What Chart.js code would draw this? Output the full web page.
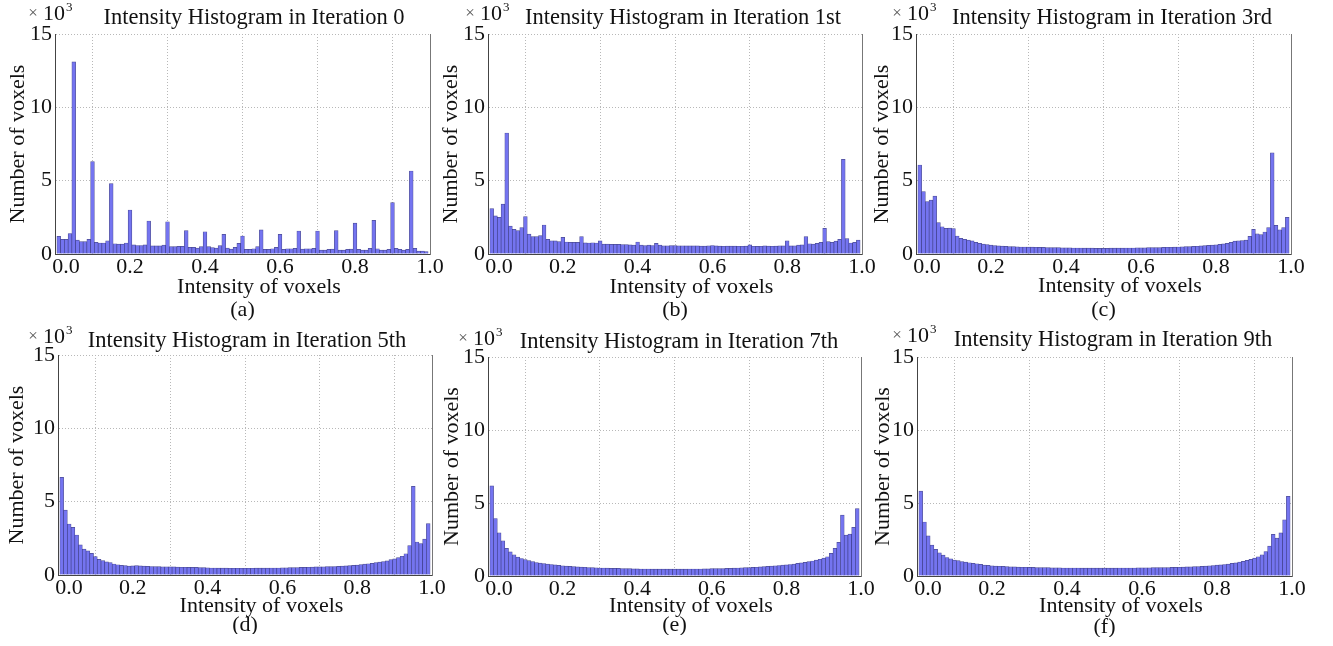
<!DOCTYPE html>
<html>
<head>
<meta charset="utf-8">
<title>Intensity histograms</title>
<script src="https://cdn.jsdelivr.net/npm/chart.js@4.4.0/dist/chart.umd.min.js"></script>
<style>
  html, body { margin: 0; padding: 0; background: #fff; overflow: hidden; }
  #wrap { position: relative; width: 1333px; height: 646px; overflow: hidden; }
  #wrap canvas { position: absolute; }
</style>
</head>
<body>
<div id="wrap"></div>
<script>
// bin centres of the 99-bin histogram (0.01 ... 0.99)
const binCenters = Array.from({length: 99}, (_, i) => (i + 1) / 100);

// counts per bin, in thousands of voxels
const countsIter0 = [
  1.2, 1.0, 1.0, 1.4, 13.1,
  0.95, 0.85, 0.85, 1.0, 6.3,
  0.8, 0.75, 0.75, 0.9, 4.8,
  0.7, 0.68, 0.68, 0.75, 3.0,
  0.62, 0.58, 0.58, 0.62, 2.25,
  0.55, 0.55, 0.55, 0.6, 2.2,
  0.5, 0.5, 0.52, 0.52, 1.6,
  0.45, 0.45, 0.4, 0.5, 1.52,
  0.5, 0.43, 0.4, 0.57, 1.34,
  0.4, 0.33, 0.45, 0.73, 1.23,
  0.32, 0.32, 0.36, 0.5, 1.64,
  0.32, 0.32, 0.36, 0.45, 1.34,
  0.32, 0.36, 0.36, 0.38, 1.57,
  0.34, 0.36, 0.36, 0.38, 1.57,
  0.27, 0.27, 0.32, 0.34, 1.6,
  0.27, 0.27, 0.32, 0.34, 2.1,
  0.32, 0.27, 0.27, 0.38, 2.3,
  0.36, 0.27, 0.27, 0.32, 3.5,
  0.39, 0.32, 0.27, 0.32, 5.66,
  0.39, 0.2, 0.2, 0.16
];
const countsIter1 = [
  3.1, 2.6, 2.5, 3.4, 8.25,
  1.9, 1.68, 1.6, 1.8, 2.55,
  1.36, 1.18, 1.18, 1.25, 1.98,
  1.0, 0.9, 0.89, 0.84, 1.14,
  0.82, 0.8, 0.8, 0.8, 1.18,
  0.76, 0.75, 0.77, 0.75, 0.89,
  0.68, 0.68, 0.66, 0.66, 0.66, 0.64, 0.64, 0.62, 0.61, 0.82,
  0.6, 0.57, 0.6, 0.58, 0.73,
  0.6, 0.56, 0.56, 0.57, 0.57, 0.56, 0.56, 0.55, 0.55, 0.55, 0.55, 0.54,
  0.54, 0.56, 0.58, 0.55, 0.54, 0.53, 0.54, 0.54, 0.54, 0.53, 0.53, 0.54, 0.62,
  0.53, 0.52, 0.53, 0.55, 0.54, 0.53, 0.54, 0.56, 0.55, 0.9,
  0.55, 0.56, 0.6, 0.62, 1.18,
  0.7, 0.68, 0.72, 0.8, 1.75,
  0.85, 0.8, 0.88, 1.0, 6.45,
  1.05, 0.75, 0.8, 0.95
];
const countsIter3 = [
  6.07, 4.25, 3.57, 3.68, 3.95, 2.14, 1.86, 1.75, 1.77, 1.73,
  1.23, 1.07, 1.0, 0.95, 0.89, 0.8, 0.73, 0.68, 0.64, 0.6,
  0.57, 0.55, 0.54, 0.52, 0.51, 0.5, 0.49, 0.48, 0.48, 0.47,
  0.47, 0.46, 0.45, 0.45, 0.44, 0.44, 0.43, 0.43, 0.42, 0.42,
  0.42, 0.41, 0.41, 0.41, 0.4, 0.4, 0.4, 0.39, 0.39, 0.39,
  0.39, 0.4, 0.4, 0.4, 0.4, 0.41, 0.41, 0.41, 0.42, 0.42,
  0.42, 0.43, 0.43, 0.44, 0.44, 0.45, 0.46, 0.46, 0.47, 0.48,
  0.49, 0.5, 0.51, 0.52, 0.53, 0.55, 0.57, 0.59, 0.61, 0.63,
  0.66, 0.69, 0.72, 0.8, 0.88, 0.9, 0.92, 0.95, 1.2, 1.68,
  1.38, 1.32, 1.5, 1.8, 6.9, 1.95, 1.65, 1.8, 2.5
];
const countsIter5 = [
  6.66, 4.43, 3.48, 3.25, 2.73, 2.05, 1.77, 1.64, 1.48, 1.25,
  1.07, 0.98, 0.89, 0.84, 0.75, 0.7, 0.66, 0.64, 0.61, 0.62,
  0.64, 0.62, 0.6, 0.59, 0.58, 0.57, 0.57, 0.56, 0.56, 0.55,
  0.55, 0.54, 0.53, 0.53, 0.52, 0.52, 0.52, 0.51, 0.5, 0.49,
  0.48, 0.48, 0.47, 0.47, 0.47, 0.46, 0.46, 0.46, 0.46, 0.46,
  0.46, 0.46, 0.47, 0.47, 0.47, 0.47, 0.48, 0.48, 0.48, 0.49,
  0.49, 0.5, 0.5, 0.51, 0.52, 0.52, 0.53, 0.54, 0.55, 0.55,
  0.56, 0.57, 0.57, 0.58, 0.59, 0.6, 0.62, 0.64, 0.66, 0.68,
  0.71, 0.74, 0.77, 0.8, 0.84, 0.88, 0.92, 0.96, 1.05, 1.1,
  1.18, 1.28, 1.45, 2.0, 6.05, 2.25, 2.15, 2.45, 3.5
];
const countsIter7 = [
  6.17, 3.94, 2.96, 2.41, 1.89, 1.65, 1.45, 1.3, 1.2, 1.12,
  1.05, 0.98, 0.92, 0.88, 0.85, 0.82, 0.79, 0.76, 0.73, 0.7,
  0.68, 0.66, 0.64, 0.62, 0.61, 0.6, 0.58, 0.57, 0.56, 0.55,
  0.55, 0.54, 0.53, 0.52, 0.52, 0.51, 0.5, 0.5, 0.49, 0.49,
  0.48, 0.48, 0.48, 0.47, 0.47, 0.47, 0.47, 0.47, 0.47, 0.47,
  0.47, 0.47, 0.47, 0.48, 0.48, 0.48, 0.48, 0.49, 0.49, 0.5,
  0.5, 0.51, 0.51, 0.52, 0.53, 0.54, 0.55, 0.56, 0.57, 0.58,
  0.59, 0.6, 0.62, 0.64, 0.66, 0.68, 0.7, 0.72, 0.74, 0.76,
  0.79, 0.82, 0.86, 0.9, 0.94, 0.98, 1.03, 1.09, 1.15, 1.22,
  1.32, 1.55, 1.89, 2.3, 4.17, 2.8, 2.87, 3.33, 4.62
];
const countsIter9 = [
  5.82, 3.7, 2.75, 2.11, 1.82, 1.59, 1.43, 1.27, 1.18, 1.09,
  1.05, 0.98, 0.95, 0.91, 0.86, 0.84, 0.8, 0.75, 0.73, 0.7,
  0.68, 0.67, 0.66, 0.64, 0.63, 0.62, 0.61, 0.6, 0.6, 0.59,
  0.59, 0.58, 0.58, 0.57, 0.57, 0.56, 0.56, 0.56, 0.55, 0.55,
  0.55, 0.55, 0.55, 0.54, 0.54, 0.54, 0.54, 0.54, 0.54, 0.54,
  0.54, 0.54, 0.54, 0.55, 0.55, 0.55, 0.55, 0.55, 0.56, 0.56,
  0.56, 0.56, 0.57, 0.57, 0.57, 0.58, 0.58, 0.59, 0.59, 0.6,
  0.61, 0.62, 0.63, 0.64, 0.65, 0.66, 0.68, 0.7, 0.72, 0.74,
  0.76, 0.79, 0.82, 0.86, 0.9, 0.95, 1.0, 1.07, 1.14, 1.22,
  1.32, 1.45, 1.68, 2.05, 2.85, 2.6, 2.95, 3.85, 5.45
];

const seriesList = [countsIter0, countsIter1, countsIter3, countsIter5, countsIter7, countsIter9];
const panelTitles = [
  'Intensity Histogram in Iteration 0',
  'Intensity Histogram in Iteration 1st',
  'Intensity Histogram in Iteration 3rd',
  'Intensity Histogram in Iteration 5th',
  'Intensity Histogram in Iteration 7th',
  'Intensity Histogram in Iteration 9th'
];
const panelLetters = ['(a)', '(b)', '(c)', '(d)', '(e)', '(f)'];
const xLabel = 'Intensity of voxels';
const yLabel = 'Number of voxels';
const xTickStep = 0.2;
const yTickStep = 5;
const yMax = 15;

// plot-area placement of each panel on the page (px)
const PANELS = [
  {L: 55,  T: 34,  R: 430,  B: 254, yW: 50, titleCx: 254,  titlePb: 2,   xH: 67.5, xLH: 23,   expX: -12, expY: 14},
  {L: 488, T: 34,  R: 862,  B: 254, yW: 50, titleCx: 683,  titlePb: 2.5, xH: 67.5, xLH: 23,   expX: -8,  expY: 14},
  {L: 916, T: 34,  R: 1291, B: 254, yW: 47, titleCx: 1112, titlePb: 2.5, xH: 68,   xLH: 24,   expX: -9,  expY: 14},
  {L: 58,  T: 355, R: 432,  B: 575, yW: 54, titleCx: 247,  titlePb: 0,   xH: 59,   xLH: 18.5, expX: -15, expY: 12},
  {L: 488, T: 357, R: 861,  B: 576, yW: 49, titleCx: 679,  titlePb: 1.5, xH: 58.5, xLH: 19,   expX: -15, expY: 12},
  {L: 917, T: 357, R: 1292, B: 576, yW: 47, titleCx: 1113, titlePb: 3,   xH: 61,   xLH: 20.5, expX: -10, expY: 15}
];

const FONT = '"Liberation Serif", "Times New Roman", serif';
const TEXT = '#111';
const TITLE_SIZE = 22.5;
const TITLE_LH = TITLE_SIZE * 1.2;

Chart.defaults.font.family = FONT;
Chart.defaults.color = TEXT;

// the "x10^3" exponent label above the y axis
const exponentPlugin = {
  id: 'exponent',
  afterDraw(chart, args, opts) {
    const {ctx, chartArea} = chart;
    const x = chartArea.left + opts.expX;
    const y = chartArea.top - opts.expY;
    ctx.save();
    ctx.fillStyle = TEXT;
    ctx.textBaseline = 'alphabetic';
    ctx.textAlign = 'left';
    ctx.font = '22px ' + FONT;
    ctx.fillText('10', x, y);
    const w = ctx.measureText('10').width;
    ctx.font = '13px ' + FONT;
    ctx.fillText('3', x + w + 1, y - 9);
    ctx.fillStyle = '#555';
    ctx.font = '17px ' + FONT;
    ctx.textAlign = 'center';
    ctx.fillText('\u00d7', x - 10, y - 2);
    ctx.restore();
  }
};

const wrap = document.getElementById('wrap');

PANELS.forEach((p, k) => {
  const left = p.L - p.yW;
  const top = Math.floor(p.T - 4 - TITLE_LH - p.titlePb);
  const boxRight = Math.round(2 * p.titleCx - left);   // title is centred on the full box
  const rightW = boxRight - p.R;                       // right frame axis fills the rest
  const width = boxRight - left;
  const height = Math.ceil(p.B + p.xH - top);
  const padBottom = top + height - p.B - p.xH;
  const titlePt = p.T - top - TITLE_LH - p.titlePb;

  const canvas = document.createElement('canvas');
  canvas.width = width;
  canvas.height = height;
  canvas.style.left = left + 'px';
  canvas.style.top = top + 'px';
  wrap.appendChild(canvas);

  new Chart(canvas, {
    type: 'bar',
    data: {
      labels: binCenters,
      datasets: [{
        data: seriesList[k],
        backgroundColor: 'rgb(116,116,240)',
        borderColor: 'rgba(45,45,130,0.85)',
        borderWidth: 0.7,
        barPercentage: 1,
        categoryPercentage: 1
      }]
    },
    options: {
      responsive: false,
      animation: false,
      devicePixelRatio: 1,
      layout: {padding: {left: 0, top: 0, right: 0, bottom: padBottom}},
      plugins: {
        legend: {display: false},
        tooltip: {enabled: false},
        title: {
          display: true,
          text: panelTitles[k],
          color: TEXT,
          font: {size: TITLE_SIZE, weight: 'normal', lineHeight: 1.2},
          padding: {top: titlePt, bottom: p.titlePb}
        },
        exponent: {expX: p.expX, expY: p.expY}
      },
      scales: {
        x: {
          type: 'linear',
          min: 0,
          max: 1,
          offset: false,
          afterFit: (s) => { s.height = p.xH; },
          ticks: {
            stepSize: xTickStep,
            autoSkip: false,
            maxRotation: 0,
            padding: 0,
            color: TEXT,
            font: {size: 22},
            // the first label sits a little right of its tick in the figure
            callback: (v) => (v === 0 ? '    ' : '') + Number(v).toFixed(1)
          },
          grid: {color: '#b8b8b8', lineWidth: 1, drawTicks: false},
          border: {display: true, color: '#444', width: 1, dash: [1, 2]},
          title: {
            display: true,
            // leading spaces nudge the label right of the letter, as in the figure
            text: ['      ' + xLabel, panelLetters[k]],
            color: TEXT,
            font: {size: 22, lineHeight: p.xLH + 'px'},
            padding: 0
          }
        },
        y: {
          min: 0,
          max: yMax,
          afterFit: (s) => { s.width = p.yW; },
          ticks: {stepSize: yTickStep, padding: 3, color: TEXT, font: {size: 22}},
          grid: {color: '#b8b8b8', lineWidth: 1, drawTicks: false},
          border: {display: true, color: '#444', width: 1, dash: [1, 2]},
          title: {
            display: true,
            text: yLabel,
            color: TEXT,
            font: {size: 22, lineHeight: 1.2},
            padding: 0
          }
        },
        yRight: {
          position: 'right',
          min: 0,
          max: yMax,
          afterFit: (s) => { s.width = rightW; },
          ticks: {display: false},
          grid: {display: false, drawTicks: false},
          border: {display: true, color: '#777', width: 1}
        }
      }
    },
    plugins: [exponentPlugin]
  });
});
</script>
</body>
</html>
